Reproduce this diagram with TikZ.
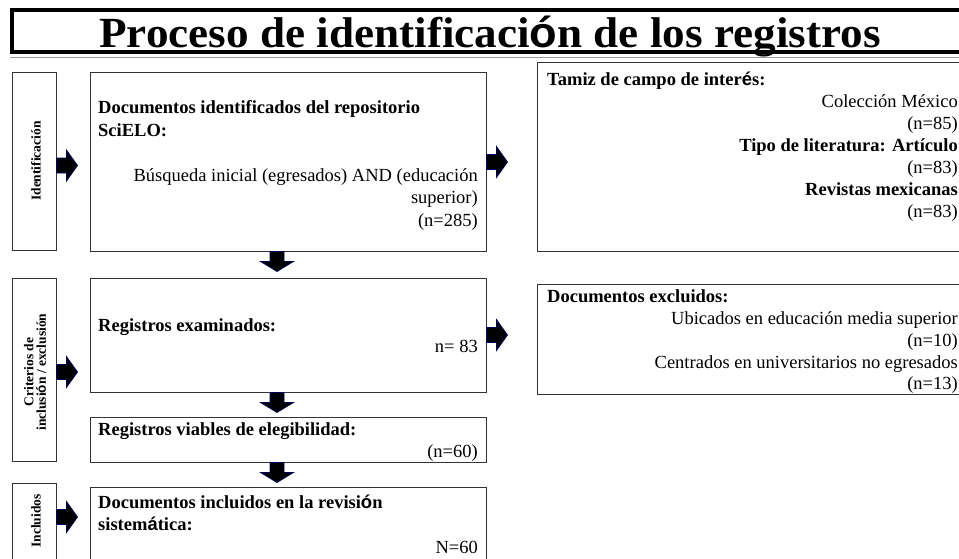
\documentclass[tikz,border=0pt]{standalone}
\usepackage{fontspec}
\setmainfont{Liberation Serif}
\newfontfamily\altsans{Liberation Sans}
\usetikzlibrary{calc}
\newcommand\rblk[1]{\draw[blk] #1 ++(0,-7.5) -- ++(10,0) -- ++(0,-8) -- ++(11,15.5) -- ++(-11,15.5) -- ++(0,-8) -- ++(-10,0) -- cycle;}
\newcommand\dblk[1]{\draw[blk] #1 ++(-7,0) -- ++(14,0) -- ++(0,10) -- ++(9.5,0) -- ++(-16.5,10) -- ++(-16.5,-10) -- ++(9.5,0) -- cycle;}
\begin{document}
\begin{tikzpicture}[x=1pt,y=-1pt,
  box/.style={draw=black!80, line width=0.9pt, inner sep=0pt, rectangle},
  txt/.style={inner sep=0pt, font=\fontsize{18.5}{22}\selectfont},
  btxt/.style={inner sep=0pt, font=\fontsize{18.5}{22}\selectfont\bfseries},
  vlab/.style={inner sep=0pt, rotate=90, font=\fontsize{13.5}{13}\selectfont\bfseries, align=center},
  blk/.style={fill=black, draw=blue!35!black, line width=0.8pt, line join=miter}
]
\useasboundingbox (0,0) rectangle (959,558);
\fill[white] (0,0) rectangle (959,558);

% title
\node[draw=black, line width=3.8pt, minimum width=963pt, minimum height=42pt, inner sep=0pt] (tbox) at (493.5,31) {};
\draw[black!40, line width=0.6pt] (10,57) -- (959,57);
\node[anchor=base, inner sep=0pt, font=\fontsize{43}{43}\selectfont\bfseries, xscale=1.05] (title) at (490,47) {Proceso de identificaci{\altsans ó}n de los registros};

% left labels
\node[box, minimum width=44pt, minimum height=178pt] (lab1) at (34,161) {};
\node[box, minimum width=44pt, minimum height=183pt] (lab2) at (34,369.5) {};
\node[box, minimum width=44pt, minimum height=97pt] (lab3) at (34,531.5) {};
\node[vlab] (l1t) at (36,161) {Identificaci\'on};
\node[vlab, font=\fontsize{13.5}{12.5}\selectfont\bfseries] (l2t) at (35,372) {Criterios de\\inclusi{\altsans ó}n / exclusi\'on};
\node[vlab] (l3t) at (36,521) {Incluidos};

% main boxes
\node[box, minimum width=396pt, minimum height=179pt] (b1) at (288,161.5) {};
\node[box, minimum width=396pt, minimum height=114pt] (b2) at (288,335) {};
\node[box, minimum width=396pt, minimum height=45pt] (b3) at (288,439.5) {};
\node[box, minimum width=396pt, minimum height=93pt] (b4) at (288,533.5) {};

% right boxes
\node[box, minimum width=433pt, minimum height=189pt] (r1) at (753.5,156.5) {};
\node[box, minimum width=433pt, minimum height=110pt] (r2) at (753.5,339) {};

% box 1 text
\node[btxt, anchor=base west] (b1a) at (98,113) {Documentos identificados del repositorio};
\node[btxt, anchor=base west] (b1b) at (98,136) {SciELO:};
\node[txt, anchor=base east] (b1c) at (478,181) {B\'usqueda inicial (egresados) AND (educaci\'on};
\node[txt, anchor=base east] (b1d) at (478,203.5) {superior)};
\node[txt, anchor=base east] (b1e) at (478,226) {(n=285)};

% box 2 text
\node[btxt, anchor=base west] (b2a) at (98,331) {Registros examinados:};
\node[txt, anchor=base east] (b2b) at (478,352) {n= 83};

% box 3 text
\node[btxt, anchor=base west] (b3a) at (98,435) {Registros viables de elegibilidad:};
\node[txt, anchor=base east] (b3b) at (478,457) {(n=60)};

% box 4 text
\node[btxt, anchor=base west] (b4a) at (98,508) {Documentos incluidos en la revisi{\altsans ó}n};
\node[btxt, anchor=base west] (b4b) at (98,530) {sistem{\altsans á}tica:};
\node[txt, anchor=base east] (b4c) at (478,553) {N=60};

% right box 1 text
\node[btxt, anchor=base west] (r1a) at (547,85) {Tamiz de campo de inter{\altsans é}s:};
\node[txt, anchor=base east] (r1b) at (958,107) {Colecci\'on M\'exico};
\node[txt, anchor=base east] (r1c) at (958,129) {(n=85)};
\node[btxt, anchor=base east] (r1d) at (958,151) {Tipo de literatura: Art\'iculo};
\node[txt, anchor=base east] (r1e) at (958,173) {(n=83)};
\node[btxt, anchor=base east] (r1f) at (958,195) {Revistas mexicanas};
\node[txt, anchor=base east] (r1g) at (958,217) {(n=83)};

% right box 2 text
\node[btxt, anchor=base west] (r2a) at (547,302) {Documentos excluidos:};
\node[txt, anchor=base east] (r2b) at (958,324) {Ubicados en educaci\'on media superior};
\node[txt, anchor=base east] (r2c) at (958,346) {(n=10)};
\node[txt, anchor=base east] (r2d) at (958,368) {Centrados en universitarios no egresados};
\node[txt, anchor=base east] (r2e) at (958,389.5) {(n=13)};

% block arrows
\rblk{($(lab1.east)+(0,4.5)$)}
\rblk{($(b1.east)+(0,0.5)$)}
\rblk{($(lab2.east)+(0,2.5)$)}
\rblk{(b2.east)}
\rblk{($(lab3.east)+(0,-14.5)$)}
\dblk{($(b1.south)+(-11,0)$)}
\dblk{($(b2.south)+(-11,0)$)}
\dblk{($(b3.south)+(-11,0)$)}
\end{tikzpicture}
\end{document}
